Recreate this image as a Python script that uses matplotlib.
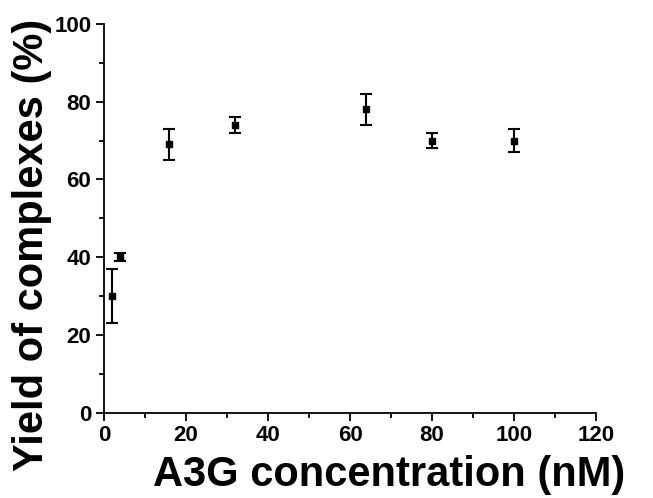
import matplotlib
matplotlib.use("Agg")
import matplotlib.pyplot as plt
from matplotlib.ticker import MultipleLocator

conc = [2, 4, 16, 32, 64, 80, 100]
yield_pct = [30, 40, 69, 74, 78, 70, 70]
err = [7, 1, 4, 2, 4, 2, 3]

plt.rcParams['font.family'] = ['Liberation Sans', 'DejaVu Sans']
fig = plt.figure(figsize=(6.53, 4.98), dpi=100)
ax = fig.add_axes([0.159, 0.171, 0.754, 0.781])
ax.errorbar(conc, yield_pct, yerr=err, fmt='s', color='black', markersize=5,
            capsize=4.5, elinewidth=1.5, capthick=1.5)
ax.set_xlim(0, 120)
ax.set_ylim(0, 100)
ax.xaxis.set_major_locator(MultipleLocator(20))
ax.xaxis.set_minor_locator(MultipleLocator(10))
ax.yaxis.set_major_locator(MultipleLocator(20))
ax.yaxis.set_minor_locator(MultipleLocator(10))
for s in ['top', 'right']:
    ax.spines[s].set_visible(False)
for s in ['left', 'bottom']:
    ax.spines[s].set_linewidth(1.3)
ax.tick_params(which='major', direction='out', length=6, width=1.3, labelsize=16, pad=3)
ax.tick_params(which='minor', direction='out', length=3.5, width=1.3)
for lab in ax.get_xticklabels() + ax.get_yticklabels():
    lab.set_fontweight('bold')
ax.set_xlabel('A3G concentration (nM)', fontsize=30, fontweight='bold')
ax.set_ylabel('Yield of complexes (%)', fontsize=30, fontweight='bold')
ax.xaxis.set_label_coords(0.58, -0.108)
ax.yaxis.set_label_coords(-0.106, 0.433)
fig.savefig('out.png', dpi=100)
